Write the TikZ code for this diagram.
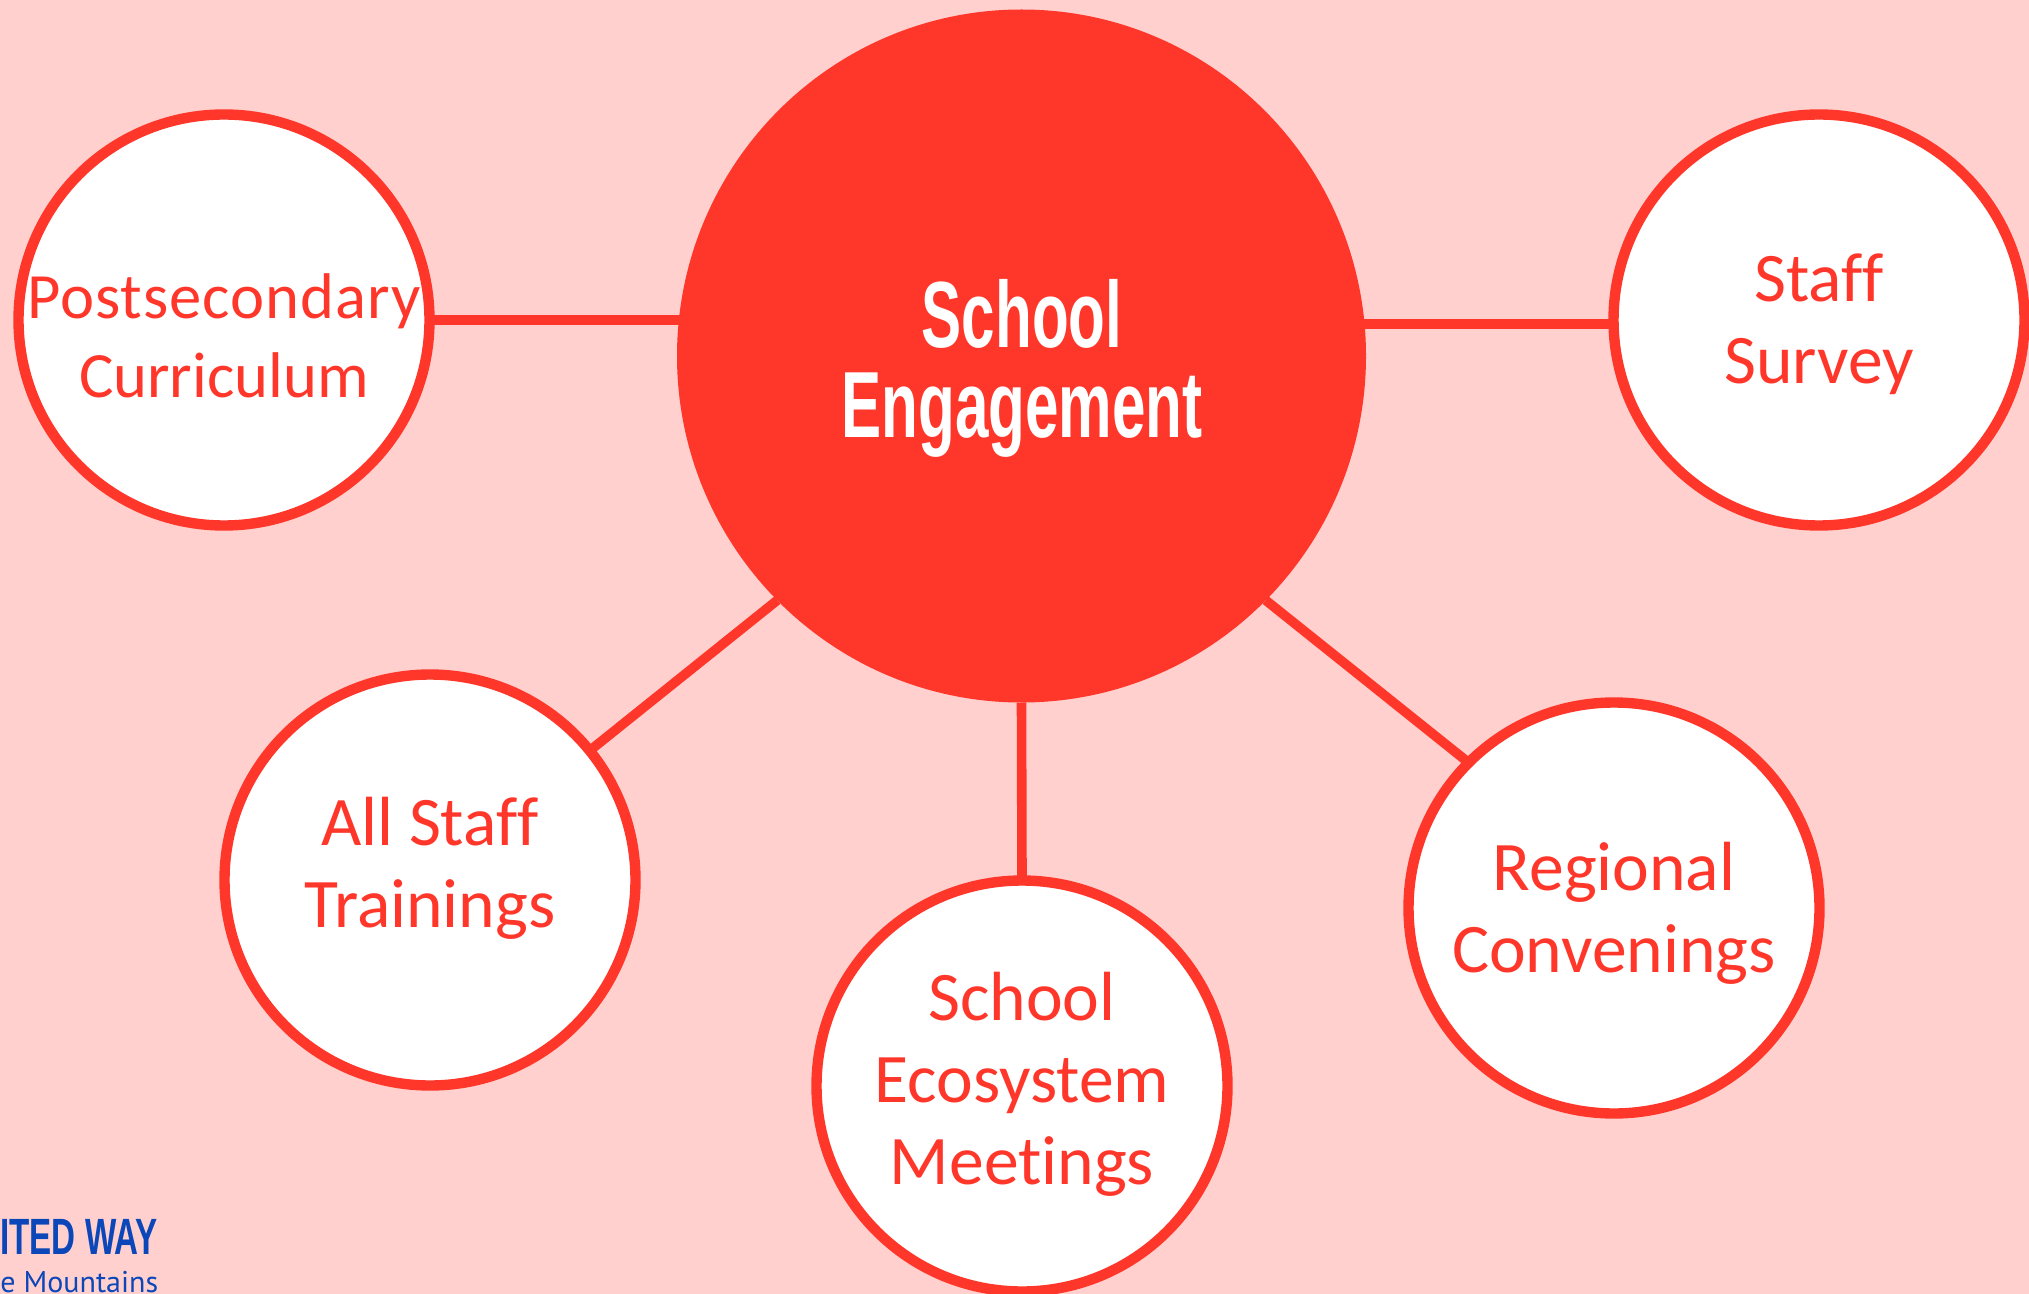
\documentclass[tikz,border=0pt]{standalone}
\usepackage{fontspec}
\usetikzlibrary{shapes.geometric}
\setmainfont{Carlito}
\newfontfamily\headfont[FakeStretch=0.64]{Liberation Sans}
\newfontfamily\logofont[FakeStretch=0.65]{Liberation Sans}
\newfontfamily\logosub{PT Sans}
\definecolor{bgpink}{HTML}{FFD0CE}
\definecolor{mainred}{HTML}{FF372B}
\definecolor{logoblue}{HTML}{0B47B8}
\tikzset{
  hub/.style={ellipse,fill=mainred,draw=none,minimum width=344.5pt,minimum height=346.5pt,inner sep=0pt,outer sep=0pt},
  spoke/.style={circle,fill=white,draw=mainred,line width=5.2pt,minimum size=205.5pt,inner sep=0pt,outer sep=0pt},
  spoketext/.style={text=mainred,align=center,inner sep=0pt,font=\fontsize{34.8}{41}\selectfont},
  link/.style={draw=mainred,line width=4.8pt},
  headtext/.style={text=white,align=center,inner sep=0pt,font=\headfont\bfseries\fontsize{47}{45}\selectfont},
}
\begin{document}
\begin{tikzpicture}[x=0.5pt,y=-0.5pt]
\useasboundingbox[fill=bgpink] (0,0) rectangle (2029,1294);
\node[spoke] (post) at (224,320) {};
\node[spoke] (staff) at (1819,320) {};
\node[spoke] (train) at (430,880) {};
\node[spoke] (eco) at (1022,1086) {};
\node[spoke] (reg) at (1614,908) {};
\node[hub] (hub) at (1021.5,356) {};
\draw[link] (post.east) -- (post.east -| hub.center);
\draw[link] ([yshift=-2pt]staff.west) -- ([yshift=-2pt]staff.west -| hub.center);
\draw[link] (train.39.3) -- (hub.225);
\draw[link] (hub.south) -- (eco.north);
\draw[link] (hub.-45) -- (reg.135);
\node[headtext] (hubtext) at (1022,368) {School\\Engagement};
\node[spoketext,font=\fontsize{32.3}{39.5}\selectfont] (posttext) at (224,336) {{\addfontfeature{LetterSpace=1.5}Postsecondary}\\Curriculum};
\node[spoketext] (stafftext) at (1819,324) {Staf\kern0pt f\\Survey};
\node[spoketext] (traintext) at (430,868) {All Staf\kern0pt f\\Trainings};
\node[spoketext] (ecotext) at (1022,1084) {School\\Ecosystem\\Meet\kern0pt ings};
\node[spoketext] (regtext) at (1614,913) {Regional\\Convenings};
\node[text=logoblue,font=\logofont\bfseries\fontsize{25.5}{25.5}\selectfont,anchor=base west,inner sep=0pt] (logoa) at (0,1254) {ITED WAY};
\node[text=logoblue,font=\logosub\fontsize{15}{15}\selectfont,anchor=base west,inner sep=0pt] (logob) at (0,1292) {e Mountains};
\end{tikzpicture}
\end{document}
